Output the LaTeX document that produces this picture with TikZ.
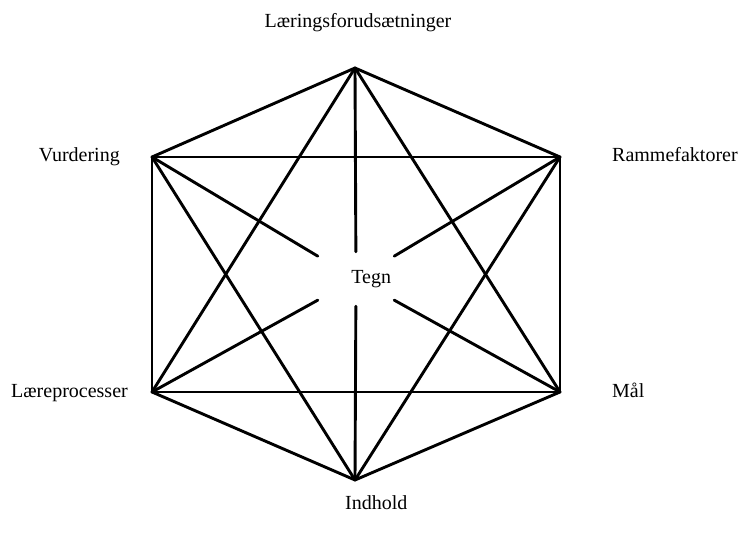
\documentclass[tikz,border=0pt]{standalone}
\usepackage{fontspec}
\setmainfont{Liberation Serif}
\usetikzlibrary{positioning}
\tikzset{
  lbl/.style={font=\fontsize{20}{24}\selectfont, inner sep=0pt},
  link/.style={line width=2.9pt, line cap=round}
}
\begin{document}
\begin{tikzpicture}[x=1pt, y=-1pt]
    \useasboundingbox (0,0) rectangle (750,540);

    % corners of the hexagon
    \coordinate (lf) at (355,68);
    \coordinate (rf) at (560,157);
    \coordinate (ml) at (560,392);
    \coordinate (ih) at (355,480);
    \coordinate (lp) at (152,392);
    \coordinate (vd) at (152,157);

    \node[lbl, minimum height=54pt, text width=70pt, inner xsep=3pt, align=right] (tegn) at (356,279) {Tegn};

    % outline and star
    \foreach \a/\b in {lf/rf, rf/ml, ml/ih, ih/lp, lp/vd, vd/lf,
                       lf/ml, rf/ih, ml/lp, ih/vd, lp/lf, vd/rf}
        \draw[link] (\a) -- (\b);
    % spokes to the centre
    \foreach \a in {lf, rf, ml, ih, lp, vd}
        \draw[link] (\a) -- (tegn);

    \node[lbl, anchor=base] (lflbl) at (358,28) {Læringsforudsætninger};
    \node[lbl, anchor=base west] (rflbl) at (612,162) {Rammefaktorer};
    \node[lbl, anchor=base west] (mllbl) at (612,397) {Mål};
    \node[lbl, anchor=base west] (ihlbl) at (345,509) {Indhold};
    \node[lbl, anchor=base east] (lplbl) at (128,397) {Læreprocesser};
    \node[lbl, anchor=base east] (vdlbl) at (120,162) {Vurdering};
\end{tikzpicture}
\end{document}
